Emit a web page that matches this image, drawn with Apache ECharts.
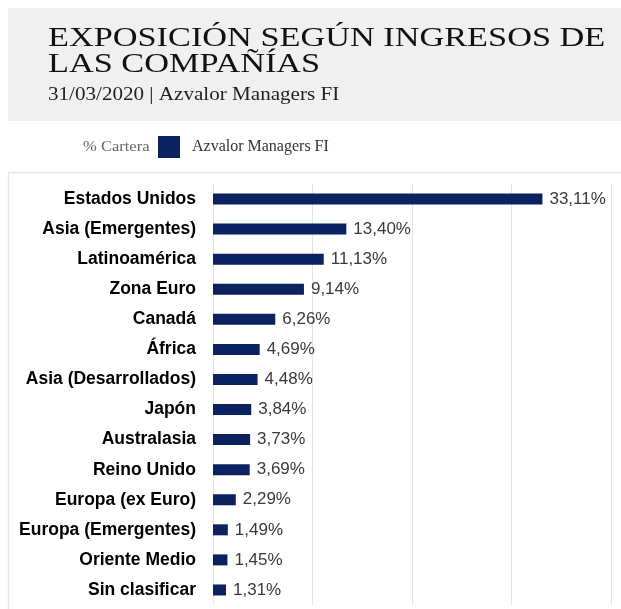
<!DOCTYPE html>
<html><head><meta charset="utf-8">
<script src="https://cdn.jsdelivr.net/npm/echarts@6/dist/echarts.min.js"></script>
<style>html,body{margin:0;padding:0;background:#fff}#c{width:621px;height:609px}</style>
</head><body><div id="c"></div>
<script>
const categories = ["Estados Unidos","Asia (Emergentes)","Latinoamérica","Zona Euro","Canadá","África","Asia (Desarrollados)","Japón","Australasia","Reino Unido","Europa (ex Euro)","Europa (Emergentes)","Oriente Medio","Sin clasificar"];
const values = [33.11,13.40,11.13,9.14,6.26,4.69,4.48,3.84,3.73,3.69,2.29,1.49,1.45,1.31];
const seriesName = "Azvalor Managers FI";
const titleLine1 = "EXPOSICIÓN SEGÚN INGRESOS DE";
const titleLine2 = "LAS COMPAÑÍAS";
const subtitle = "31/03/2020 | Azvalor Managers FI";
const legendPrefix = "% Cartera";

const chart = echarts.init(document.getElementById('c'), null, {renderer:'canvas'});
chart.setOption({
  backgroundColor:'#fff',
  animation:false,
  graphic:[
    {type:'rect', shape:{x:8,y:8,width:613,height:113}, style:{fill:'#f0f0f0'}, z:-10},
    {type:'polyline', shape:{points:[[8.5,609],[8.5,172.5],[621,172.5]]}, style:{stroke:'#e8e8e8',lineWidth:1.5,fill:null}},
    {type:'text', x:48, y:38.5, scaleX:1.27, style:{text:titleLine1, font:'27px "Liberation Serif"', fill:'#111', verticalAlign:'middle', align:'left'}},
    {type:'text', x:48, y:65, scaleX:1.27, style:{text:titleLine2, font:'27px "Liberation Serif"', fill:'#111', verticalAlign:'middle', align:'left'}},
    {type:'text', x:48, y:95, scaleX:1.11, style:{text:subtitle, font:'19px "Liberation Serif"', fill:'#222', verticalAlign:'middle', align:'left'}},
    {type:'text', x:83, y:147, scaleX:1.18, style:{text:legendPrefix, font:'14px "Liberation Serif"', fill:'#666', verticalAlign:'middle', align:'left'}}
  ],
  legend:{
    left:158, top:136, padding:0, itemWidth:22, itemHeight:22, icon:'rect',
    data:[seriesName],
    textStyle:{fontFamily:'Liberation Serif', fontSize:16, color:'#333', padding:[0,0,0,7]}
  },
  grid:{left:213, right:10, top:184, bottom:4, containLabel:false},
  xAxis:{type:'value', min:0, max:40, interval:10,
    axisLabel:{show:false}, axisLine:{show:false}, axisTick:{show:false},
    splitLine:{lineStyle:{color:'#e3e3e3', width:1}}},
  yAxis:{type:'category', data:categories, inverse:true,
    axisLine:{show:false}, axisTick:{show:false},
    axisLabel:{fontFamily:'Liberation Sans', fontWeight:'bold', fontSize:17.5, color:'#000', margin:17}},
  series:[{
    name:seriesName, type:'bar', data:values, barWidth:11,
    itemStyle:{color:'#0b2260'},
    label:{show:true, position:'right', distance:7,
      fontFamily:'Liberation Sans', fontSize:17, color:'#3a3a3a',
      formatter:p=>p.value.toFixed(2).replace('.',',')+'%'}
  }]
});
</script></body></html>
